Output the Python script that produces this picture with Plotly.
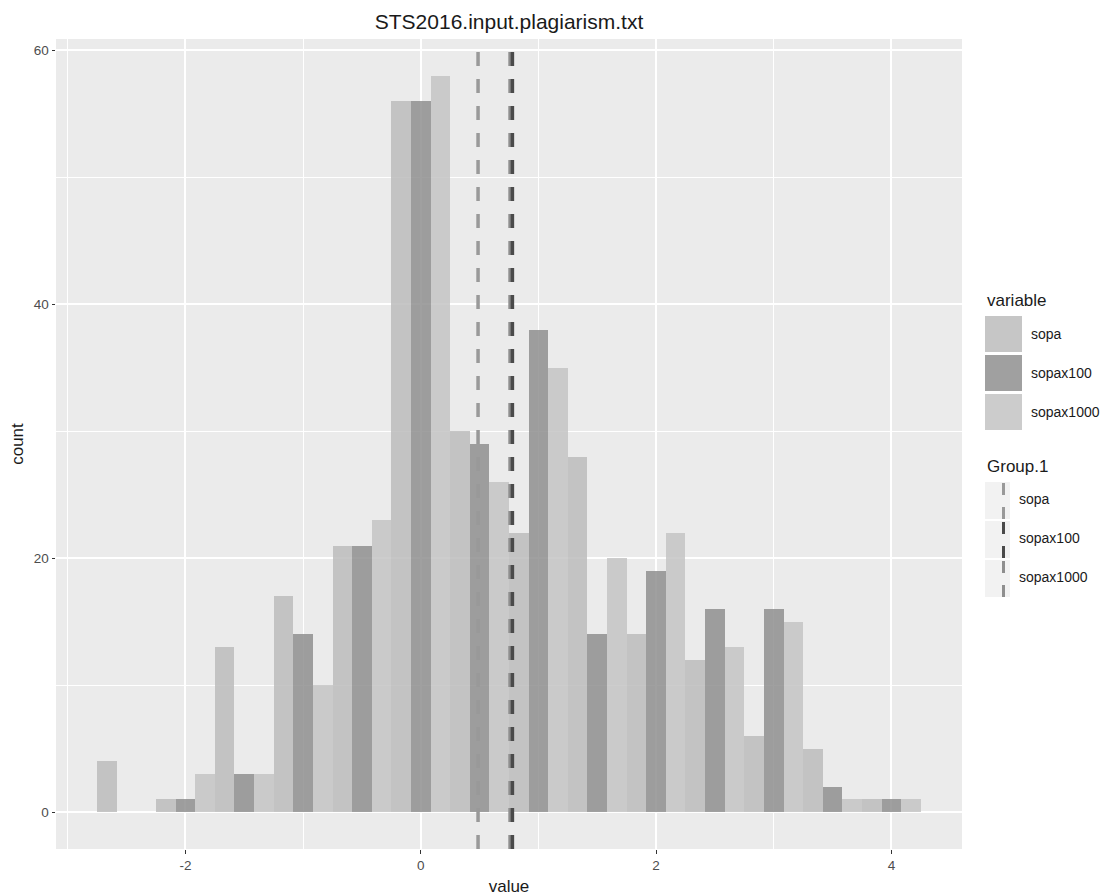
import plotly.graph_objects as go

# ---------------- data ----------------
bin_centers = [-2.5, -2.0, -1.5, -1.0, -0.5, 0.0, 0.5, 1.0, 1.5, 2.0, 2.5, 3.0, 3.5, 4.0]
bin_width = 0.5
sopa = [4, 1, 13, 17, 21, 56, 30, 22, 28, 14, 12, 6, 5, 1]
sopax100 = [0, 1, 3, 14, 21, 56, 29, 38, 14, 19, 16, 16, 2, 1]
sopax1000 = [0, 3, 3, 10, 23, 58, 26, 35, 20, 22, 13, 15, 1, 1]
series_names = ["sopa", "sopax100", "sopax1000"]
group_means = {"sopa": 0.487, "sopax1000": 0.759, "sopax100": 0.779}
x_ticks = [-2, 0, 2, 4]
x_minor = [-3, -1, 1, 3]
y_ticks = [0, 20, 40, 60]
y_minor = [10, 30, 50]
title_text = "STS2016.input.plagiarism.txt"

# ---------------- styling ----------------
OFF = 8                                   # default body margin of the html page
W, H = 1108 - OFF, 896 - OFF
PL, PR, PT, PB = 56 - OFF, 962 - OFF, 39 - OFF, 849 - OFF   # panel box (figure px)
FONT = "Liberation Sans, Arial, sans-serif"
fill_colors = {"sopa": "rgba(188,188,188,0.85)",
               "sopax100": "rgba(143,143,143,0.85)",
               "sopax1000": "rgba(196,196,196,0.85)"}
key_colors = {"sopa": "#c6c6c6", "sopax100": "#a0a0a0", "sopax1000": "#cccccc"}
line_colors = {"sopa": "#999999", "sopax100": "#4a4a4a", "sopax1000": "#8e8e8e"}

fig = go.Figure()
for name, vals in zip(series_names, [sopa, sopax100, sopax1000]):
    fig.add_bar(x=bin_centers, y=vals, name=name, showlegend=False,
                marker=dict(color=fill_colors[name], line=dict(width=0)))

# x range: bin edges expanded by 5 %
lo = bin_centers[0] - bin_width / 2
hi = bin_centers[-1] + bin_width / 2
ex = (hi - lo) * 0.05
ymax = max(max(sopa), max(sopax100), max(sopax1000))
ey = ymax * 0.05

# mean lines (sopax1000 drawn before sopax100 so dark is on top)
for name in ["sopa", "sopax1000", "sopax100"]:
    m = group_means[name]
    fig.add_shape(type="line", xref="x", yref="paper", x0=m, x1=m, y0=0, y1=1,
                  line=dict(color=line_colors[name], width=3.5, dash="14px,13px"),
                  layer="above")

# ---------------- custom ggplot-like legends ----------------
# positions given in page pixels of the reference, converted to paper coords
def px(xp):
    return (xp - OFF - PL) / (PR - PL)

def py(yp):
    return (PB - (yp - OFF)) / (PB - PT)

annotations = []
shapes = []
annotations.append(dict(text="variable", xref="paper", yref="paper", x=px(985), y=py(300),
                        xanchor="left", yanchor="middle", showarrow=False,
                        font=dict(family=FONT, size=17, color="#1a1a1a")))
key_tops = [316, 355, 394]
for name, kt in zip(series_names, key_tops):
    shapes.append(dict(type="rect", xref="paper", yref="paper", x0=px(985), x1=px(1022),
                       y0=py(kt + 36), y1=py(kt), fillcolor=key_colors[name],
                       line=dict(width=0), layer="above"))
    annotations.append(dict(text=name, xref="paper", yref="paper", x=px(1029), y=py(kt + 18),
                            xanchor="left", yanchor="middle", showarrow=False,
                            font=dict(family=FONT, size=14, color="#1a1a1a")))
annotations.append(dict(text="Group.1", xref="paper", yref="paper", x=px(985), y=py(467),
                        xanchor="left", yanchor="middle", showarrow=False,
                        font=dict(family=FONT, size=17, color="#1a1a1a")))
g_tops = [482, 521, 560]
for name, kt in zip(series_names, g_tops):
    shapes.append(dict(type="rect", xref="paper", yref="paper", x0=px(985), x1=px(1010),
                       y0=py(kt + 37), y1=py(kt), fillcolor="#f2f2f2",
                       line=dict(width=0), layer="above"))
    shapes.append(dict(type="line", xref="paper", yref="paper", x0=px(1003.5), x1=px(1003.5),
                       y0=py(kt + 37), y1=py(kt),
                       line=dict(color=line_colors[name], width=3, dash="12px,12px"),
                       layer="above"))
    annotations.append(dict(text=name, xref="paper", yref="paper", x=px(1017), y=py(kt + 17),
                            xanchor="left", yanchor="middle", showarrow=False,
                            font=dict(family=FONT, size=14, color="#1a1a1a")))

for s in shapes:
    fig.add_shape(**s)

axis_common = dict(
    showgrid=True, gridcolor="white", gridwidth=1.6, zeroline=False,
    ticks="outside", ticklen=3.5, tickwidth=1.1, tickcolor="#333333",
    tickfont=dict(family=FONT, size=13.5, color="#4d4d4d"),
    showline=False, automargin=False,
)

fig.update_layout(
    width=W, height=H,
    margin=dict(l=PL, r=W - PR, t=PT, b=H - PB, pad=0),
    paper_bgcolor="white", plot_bgcolor="#ebebeb",
    barmode="group", bargap=0, bargroupgap=0,
    showlegend=False,
    font=dict(family=FONT, color="#1a1a1a"),
    title=dict(text=title_text, x=(PL + PR) / 2 / W, xanchor="center", xref="container",
               y=1 - (22 - OFF) / H, yanchor="middle", yref="container",
               font=dict(family=FONT, size=21, color="#1a1a1a")),
    xaxis=dict(range=[lo - ex, hi + ex], tickmode="array", tickvals=x_ticks,
               ticktext=[str(v) for v in x_ticks],
               minor=dict(tickmode="array", tickvals=x_minor, showgrid=True,
                          gridcolor="white", gridwidth=0.8, ticks=""),
               title=dict(text="value", standoff=8,
                          font=dict(family=FONT, size=17, color="#1a1a1a")),
               **axis_common),
    yaxis=dict(range=[-ey, ymax + ey], tickmode="array", tickvals=y_ticks,
               ticktext=[str(v) for v in y_ticks],
               minor=dict(tickmode="array", tickvals=y_minor, showgrid=True,
                          gridcolor="white", gridwidth=0.8, ticks=""),
               title=dict(text="count", standoff=12,
                          font=dict(family=FONT, size=17, color="#1a1a1a")),
               **axis_common),
    annotations=annotations,
)

fig.write_html("out.html")
